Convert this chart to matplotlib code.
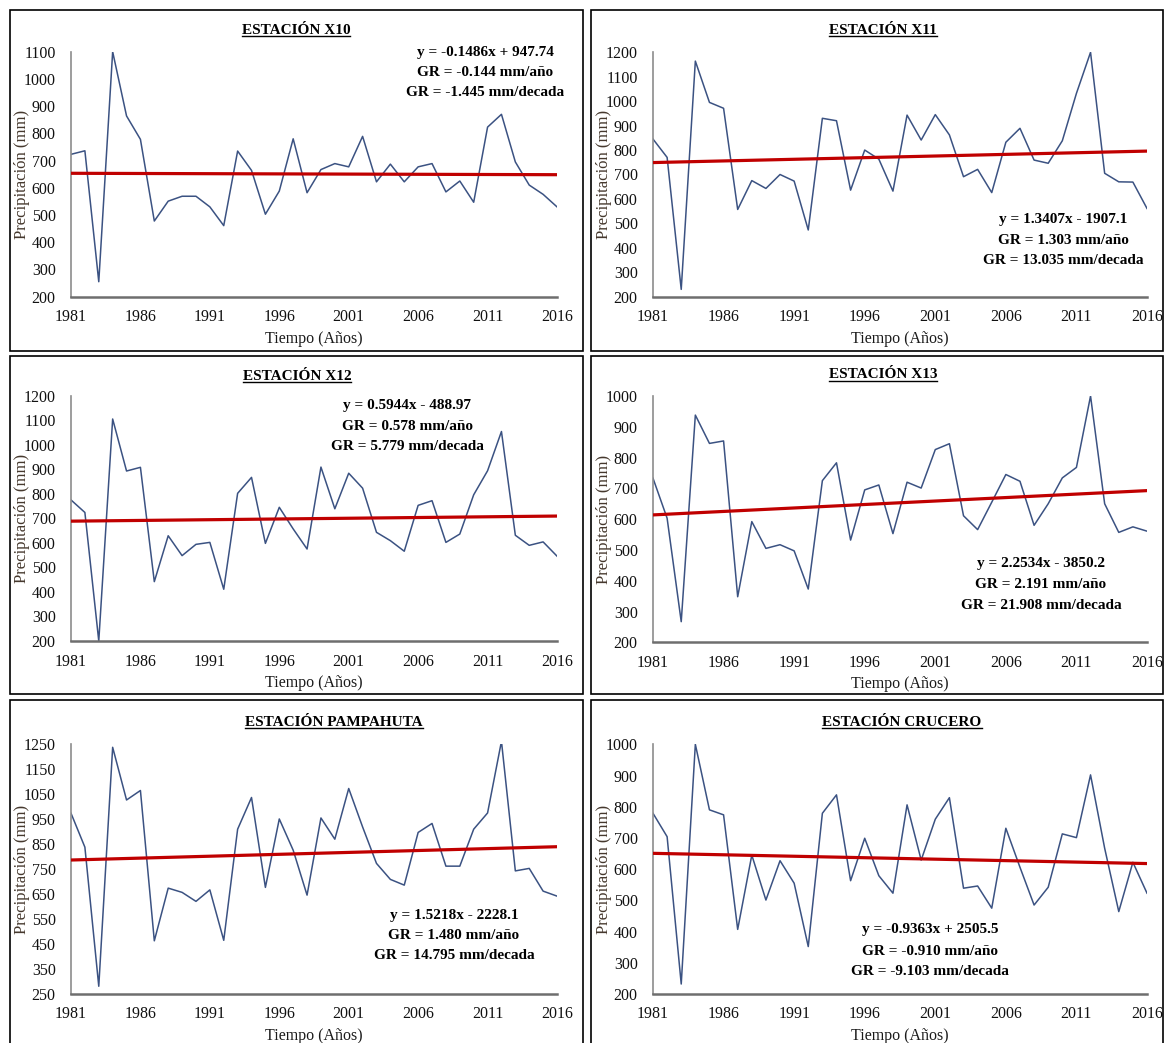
import matplotlib
matplotlib.use("Agg")
import matplotlib.pyplot as plt
from matplotlib.patches import Rectangle
from matplotlib.lines import Line2D

# ---- data -------------------------------------------------------------
years = list(range(1981, 2017))
xtick_years = [1981, 1986, 1991, 1996, 2001, 2006, 2011, 2016]

x10 = [723, 736, 255, 1100, 864, 778, 478, 551, 569, 569, 530, 461, 735, 664, 503, 588,
       780, 582, 667, 689, 677, 789, 622, 687, 622, 677, 689, 585, 625, 547, 823, 870,
       695, 610, 576, 530]
x11 = [845, 770, 230, 1164, 995, 971, 557, 675, 643, 700, 673, 473, 930, 920, 636, 800,
       763, 632, 943, 841, 945, 862, 691, 721, 626, 832, 889, 759, 746, 838, 1032, 1200,
       705, 670, 669, 561]
x12 = [775, 724, 200, 1105, 893, 908, 442, 629, 548, 594, 602, 411, 802, 867, 598, 745,
       657, 575, 909, 739, 884, 823, 643, 609, 566, 753, 772, 602, 636, 796, 894, 1054,
       631, 590, 604, 546]
x13 = [733, 603, 267, 938, 846, 854, 348, 592, 505, 517, 497, 373, 725, 783, 532, 695,
       711, 553, 720, 701, 826, 845, 611, 566, 655, 745, 723, 580, 650, 734, 768, 1000,
       650, 557, 575, 561]
pampahuta = [974, 838, 281, 1238, 1027, 1065, 463, 674, 657, 621, 667, 465, 910, 1037, 677, 951,
             826, 646, 955, 870, 1073, 919, 773, 709, 686, 897, 933, 762, 762, 910, 975, 1262,
             743, 753, 662, 642]
crucero = [779, 704, 232, 1000, 790, 774, 407, 645, 501, 627, 555, 352, 779, 838, 563, 699,
           579, 523, 806, 629, 760, 829, 539, 546, 475, 731, 606, 485, 542, 713, 701, 902,
           667, 464, 622, 523]

titles = ["ESTACIÓN X10", "ESTACIÓN X11", "ESTACIÓN X12",
          "ESTACIÓN X13", "ESTACIÓN PAMPAHUTA", "ESTACIÓN CRUCERO"]
series = [x10, x11, x12, x13, pampahuta, crucero]

# linear trend coefficients (slope, intercept) and growth-rate labels
slopes = [-0.1486, 1.3407, 0.5944, 2.2534, 1.5218, -0.9363]
intercepts = [947.74, -1907.1, -488.97, -3850.2, -2228.1, 2505.5]
eq_labels = ["y = -0.1486x + 947.74", "y = 1.3407x - 1907.1", "y = 0.5944x - 488.97",
             "y = 2.2534x - 3850.2", "y = 1.5218x - 2228.1", "y = -0.9363x + 2505.5"]
gr_year = ["GR = -0.144 mm/año", "GR = 1.303 mm/año", "GR = 0.578 mm/año",
           "GR = 2.191 mm/año", "GR = 1.480 mm/año", "GR = -0.910 mm/año"]
gr_decade = ["GR = -1.445 mm/decada", "GR = 13.035 mm/decada", "GR = 5.779 mm/decada",
             "GR = 21.908 mm/decada", "GR = 14.795 mm/decada", "GR = -9.103 mm/decada"]

y_ranges = [(200, 1100, 100), (200, 1200, 100), (200, 1200, 100),
            (200, 1000, 100), (250, 1250, 100), (200, 1000, 100)]

# ---- layout (pixels) --------------------------------------------------
W, H = 1165, 1043
SERIF = "Liberation Serif"

# axes boxes: left, top, right, bottom
axes_px = [(71, 51.7, 557, 296.7), (653, 52.3, 1147, 296.7),
           (71, 395.7, 557, 641.0), (653, 396.0, 1147, 642.3),
           (71, 744.3, 557, 994.0), (653, 744.3, 1147, 994.0)]
# frame around each panel
frames_px = [(10, 10, 583, 351), (591, 10, 1163, 351),
             (10, 356, 583, 694), (591, 356, 1163, 694),
             (10, 700, 583, 1060), (591, 700, 1163, 1060)]
title_px = [(296, 30), (883, 30), (297, 376), (883, 375), (334, 722), (902, 722)]
eq_px = [(485, (52.5, 72.7, 92.7)), (1063, (219, 240, 260)),
         (407, (406, 427, 447)), (1041, (564, 585, 605.5)),
         (454, (915, 935.7, 955.7)), (930, (930, 951.5, 971.5))]

line_color = "#3b5282"
trend_color = "#c00000"
tick_color = "#111111"
ylabel_color = "#45382d"

fig = plt.figure(figsize=(W / 100, H / 100), dpi=100)
fig.patch.set_facecolor("white")


def fx(x):
    return x / W


def fy(y):
    return 1 - y / H


for (l, t, r, b) in frames_px:
    fig.add_artist(Rectangle((fx(l), fy(b)), fx(r) - fx(l), fy(t) - fy(b),
                             transform=fig.transFigure, fill=False,
                             edgecolor="black", linewidth=1.2, clip_on=False))

title_texts = []
for i in range(6):
    l, t, r, b = axes_px[i]
    ax = fig.add_axes([fx(l), fy(b), fx(r) - fx(l), fy(t) - fy(b)])
    ax.patch.set_alpha(0)
    vals = series[i]
    ax.plot(years, vals, color=line_color, linewidth=1.1, zorder=2)
    trend = [slopes[i] * yr + intercepts[i] for yr in years]
    ax.plot(years, trend, color=trend_color, linewidth=2.3, zorder=3)

    y0, y1, step = y_ranges[i]
    ax.set_xlim(years[0], years[-1])
    ax.set_ylim(y0, y1)
    ax.set_yticks(list(range(y0, y1 + 1, step)))
    ax.set_xticks(xtick_years)
    ax.tick_params(length=0, labelsize=11.5, colors=tick_color)
    for lab in ax.get_xticklabels() + ax.get_yticklabels():
        lab.set_fontfamily(SERIF)
    ax.tick_params(axis="y", pad=11)
    ax.tick_params(axis="x", pad=9)
    for s in ("top", "right"):
        ax.spines[s].set_visible(False)
    ax.spines["left"].set_color("#8c8c8c")
    ax.spines["left"].set_linewidth(1.2)
    ax.spines["bottom"].set_color("#6e6e6e")
    ax.spines["bottom"].set_linewidth(1.8)

    ax.set_ylabel("Precipitación (mm)", fontfamily=SERIF, fontsize=12,
                  color=ylabel_color, va="center")
    ax.yaxis.set_label_coords(-49 / (r - l), 0.5)
    ax.set_xlabel("Tiempo (Años)", fontfamily=SERIF, fontsize=11.5,
                  color="#1a1a1a", va="center")
    ax.xaxis.set_label_coords(0.5, -42 / (b - t))

    tx, ty = title_px[i]
    tt = fig.text(fx(tx), fy(ty), titles[i], fontfamily=SERIF, fontsize=11,
                  fontweight="bold", ha="center", va="center", color="black")
    title_texts.append(tt)

    ex, eys = eq_px[i]
    for txt, ey in zip((eq_labels[i], gr_year[i], gr_decade[i]), eys):
        fig.text(fx(ex), fy(ey), txt, fontfamily=SERIF, fontsize=11,
                 fontweight="bold", ha="center", va="center", color="black")

# underline the panel titles
fig.canvas.draw()
renderer = fig.canvas.get_renderer()
for tt in title_texts:
    bb = tt.get_window_extent(renderer)
    yline = bb.y0 + 1
    fig.add_artist(Line2D([bb.x0 / W, bb.x1 / W], [yline / H, yline / H],
                          transform=fig.transFigure, color="black", linewidth=1.0))

fig.savefig("out.png", dpi=100, facecolor="white")
